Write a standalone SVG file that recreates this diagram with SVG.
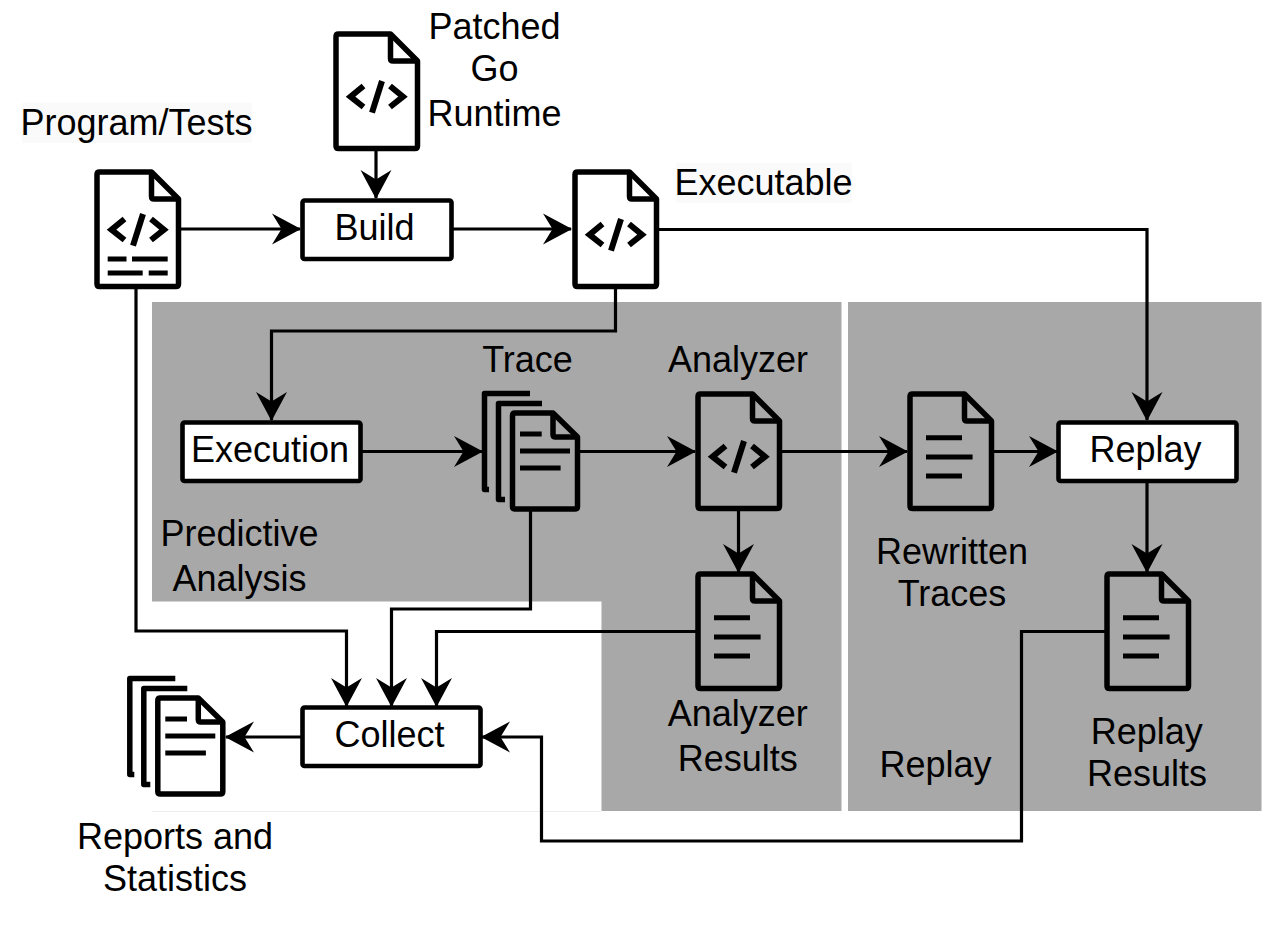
<svg xmlns="http://www.w3.org/2000/svg" xmlns:xlink="http://www.w3.org/1999/xlink" width="1263" height="933" viewBox="0 0 1263 933">
<style>
text{font-family:"Liberation Sans",Arial,sans-serif;font-size:36px;fill:#000;text-anchor:middle}
.box{fill:#fff;stroke:#000;stroke-width:4.6;stroke-linejoin:round}
.ln{fill:none;stroke:#000;stroke-width:5.5;stroke-linejoin:round}
.code{fill:none;stroke:#000;stroke-width:6}
.bar{fill:none;stroke:#000;stroke-width:5}
.sheet{fill:none;stroke:#000;stroke-width:5.5;stroke-linejoin:round}
.c{fill:none;stroke:#000;stroke-width:3.2;marker-end:url(#ah)}
</style>
<defs>
<marker id="ah" markerUnits="userSpaceOnUse" markerWidth="34" markerHeight="34" refX="31" refY="17" orient="auto" viewBox="0 0 34 34"><path d="M32 17L3 1.500L12.500 17L3 32.500Z" fill="#000"/></marker>
<g id="doc"><path class="ln" d="M2.500 0H54.500L81.500 27V112Q81.500 114.500 79 114.500H2.500Q0 114.500 0 112V2.500Q0 0 2.500 0Z"/><path class="ln" d="M54.500 0V24.500Q54.500 27 57 27H81.500"/></g>
<g id="code"><path class="code" d="M27.500 52L14.500 62.700L27.500 73M54 52L67 62.700L54 73M46 47L36 78.700"/></g>
<g id="lines"><path class="bar" d="M16 43.700H52M16 63H62.600M16 82H52"/></g>
<g id="stack"><path class="sheet" d="M530 393.500H484.500V489.500H489M542 403.500H498.500V499.500H505"/><path class="ln" d="M515 413H553L577.500 437V506.500Q577.500 509 575 509H515Q512.500 509 512.500 506.500V415.500Q512.500 413 515 413Z"/><path class="ln" d="M553 413V434.500Q553 437 555.500 437H577.500"/><path class="bar" d="M520 434H541.700M520 451H570M520 468H560.600"/></g>
</defs>
<g id="regions">
<path fill="#a8a8a8" d="M152 302H841.500V811H601.500V601.500H152Z"/>
<rect x="848" y="302" width="413.500" height="509" fill="#a8a8a8"/>
<path d="M152 811.500H601" stroke="#eeeeee" stroke-width="1" fill="none"/>
<rect x="22" y="103" width="230" height="40" fill="#fafafa"/>
<rect x="676" y="163" width="176" height="40" fill="#fafafa"/>
</g>
<g id="connectors">
<path class="c" d="M180 229H300"/>
<path class="c" d="M376 150V198"/>
<path class="c" d="M453 229H571"/>
<path class="c" d="M658 229.500H1147V420"/>
<path class="c" d="M615.500 288V331H271.500V420"/>
<path class="c" d="M362 451.500H482"/>
<path class="c" d="M579 451.500H695"/>
<path class="c" d="M782 451.500H907"/>
<path class="c" d="M994 451.500H1057"/>
<path class="c" d="M738.500 510V572"/>
<path class="c" d="M1147 482V572"/>
<path class="c" d="M136 288V631H346.500V706"/>
<path class="c" d="M530.500 510V609H391.500V706"/>
<path class="c" d="M697 631.500H436.500V706"/>
<path class="c" d="M1106 631.500H1021.500V841H541.500V737H482"/>
<path class="c" d="M302 737H226"/>
</g>
<g id="n-patched"><use xlink:href="#doc" href="#doc" x="336" y="34"/><use href="#code" xlink:href="#code" x="336" y="34"/><text x="494.500" y="39">Patched</text><text x="494.500" y="81">Go</text><text x="494.500" y="126">Runtime</text></g>
<g id="n-program"><use href="#doc" xlink:href="#doc" x="97" y="172"/><use href="#code" xlink:href="#code" x="97" y="167"/><path class="bar" d="M107.700 259H126.500M132 259H167.700M107.700 273H142.700M148.700 273H167.700"/><text x="136.500" y="135">Program/Tests</text></g>
<g id="n-build"><rect class="box" x="302.500" y="200.500" width="149" height="58.500" rx="2"/><text x="374.500" y="240">Build</text></g>
<g id="n-executable"><use href="#doc" xlink:href="#doc" x="575" y="172"/><use href="#code" xlink:href="#code" x="575" y="172"/><text x="763.500" y="195">Executable</text></g>
<g id="n-execution"><rect class="box" x="182.500" y="422.500" width="178" height="58.500" rx="2"/><text x="270" y="462">Execution</text></g>
<g id="n-trace"><use href="#stack" xlink:href="#stack"/><text x="527.500" y="372">Trace</text></g>
<g id="n-analyzer"><use href="#doc" xlink:href="#doc" x="698" y="394"/><use href="#code" xlink:href="#code" x="698" y="394"/><text x="738" y="372">Analyzer</text></g>
<g id="n-results"><use href="#doc" xlink:href="#doc" x="698" y="574"/><use href="#lines" xlink:href="#lines" x="698" y="574"/><text x="737.700" y="726">Analyzer</text><text x="737.700" y="771">Results</text></g>
<g id="n-rewritten"><use href="#doc" xlink:href="#doc" x="910" y="394"/><use href="#lines" xlink:href="#lines" x="910" y="394"/><text x="952" y="564">Rewritten</text><text x="952" y="606">Traces</text></g>
<g id="n-replay"><rect class="box" x="1058.500" y="422.500" width="178" height="58.500" rx="2"/><text x="1145.500" y="462">Replay</text></g>
<g id="n-replayresults"><use href="#doc" xlink:href="#doc" x="1107" y="574"/><use href="#lines" xlink:href="#lines" x="1107" y="574"/><text x="1146.800" y="744">Replay</text><text x="1147" y="786">Results</text></g>
<g id="n-collect"><rect class="box" x="302.500" y="707.500" width="178" height="58.500" rx="2"/><text x="389.500" y="747">Collect</text></g>
<g id="n-reports"><use href="#stack" xlink:href="#stack" x="-354.700" y="285"/><text x="175" y="849">Reports and</text><text x="175" y="891">Statistics</text></g>
<g id="l-predictive"><text x="239.500" y="546">Predictive</text><text x="239.500" y="591">Analysis</text></g>
<g id="l-replay"><text x="935.500" y="777">Replay</text></g>
</svg>
